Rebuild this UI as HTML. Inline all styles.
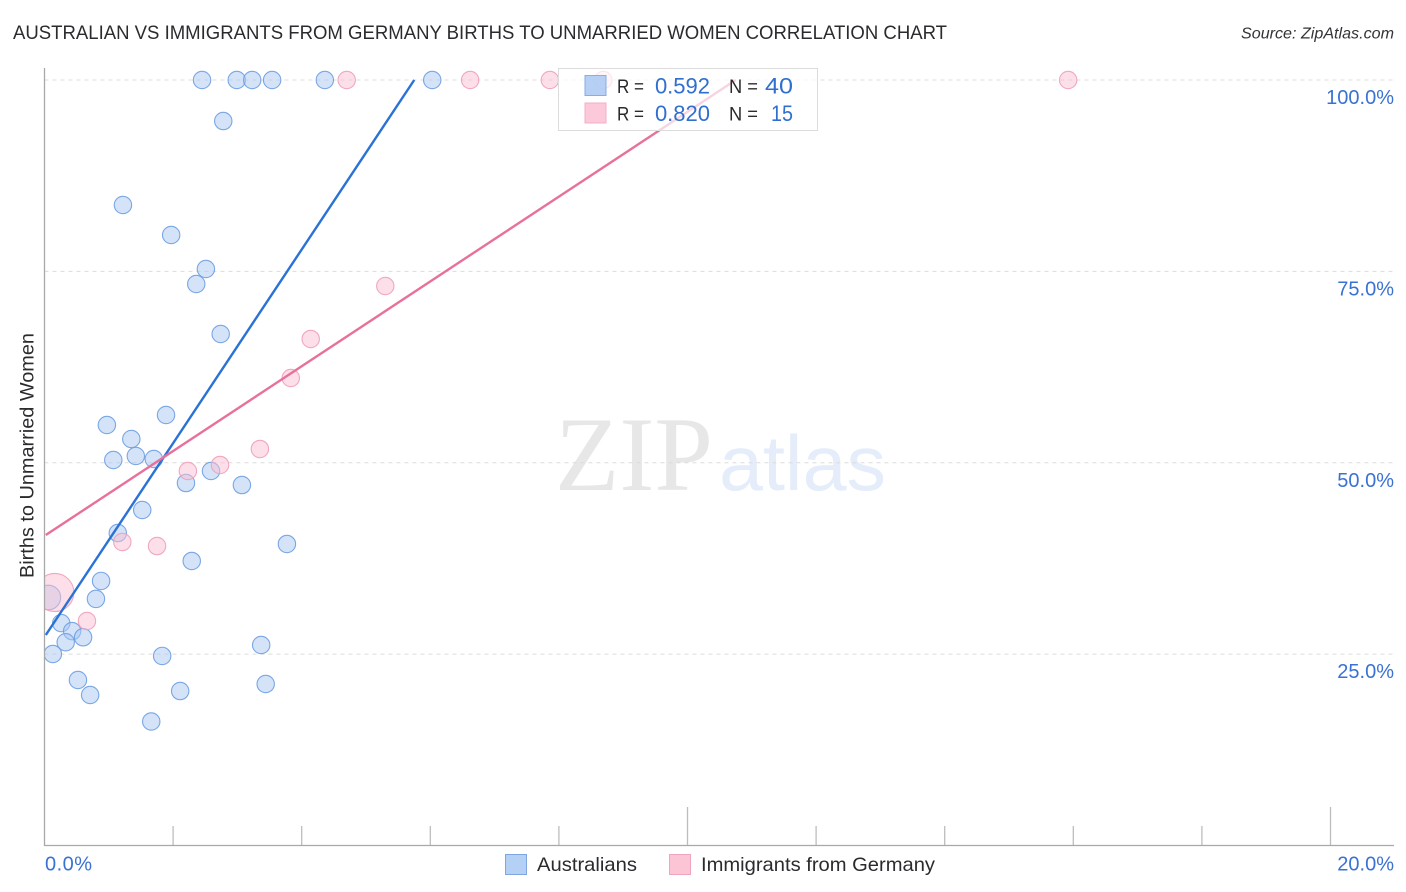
<!DOCTYPE html>
<html lang="en">
<head>
<meta charset="utf-8">
<title>Australian vs Immigrants from Germany Births to Unmarried Women Correlation Chart</title>
<style>
html,body{margin:0;padding:0;background:#fff;width:1406px;height:892px;overflow:hidden}
svg{display:block;font-family:"Liberation Sans",sans-serif}
</style>
</head>
<body>
<svg id="chart" width="1406" height="892" viewBox="0 0 1406 892" xmlns="http://www.w3.org/2000/svg">
  <rect x="0" y="0" width="1406" height="892" fill="#ffffff"/>
  <text x="13" y="39" font-size="19" fill="#2b2b2f" textLength="934" lengthAdjust="spacingAndGlyphs">AUSTRALIAN VS IMMIGRANTS FROM GERMANY BIRTHS TO UNMARRIED WOMEN CORRELATION CHART</text>
  <text x="1241" y="38.5" font-size="16" font-style="italic" fill="#333338" textLength="153" lengthAdjust="spacingAndGlyphs">Source: ZipAtlas.com</text>

  <g>
    <text x="555" y="490" font-family="'Liberation Serif',serif" font-size="106" fill="#e7e7e7" textLength="158" lengthAdjust="spacingAndGlyphs">ZIP</text>
    <text x="719" y="490" font-size="78" fill="#e4edf9" textLength="167" lengthAdjust="spacingAndGlyphs">atlas</text>
  </g>

  <g id="grid"></g>
  <g id="yLabels"></g>
  <g id="xTicks"></g>
  <g id="xLabels"></g>

  <svg x="44.5" y="60" width="1350" height="786" viewBox="44.5 60 1350 786" overflow="hidden">
    <g id="bluePoints"></g>
    <g id="pinkPoints"></g>
  </svg>
  <g id="trends"></g>

  <line x1="44.5" y1="68" x2="44.5" y2="846" stroke="#a8a8a8" stroke-width="1.3"/>
  <line x1="44" y1="845.5" x2="1394" y2="845.5" stroke="#a8a8a8" stroke-width="1.3"/>

  <text transform="translate(33.5,578) rotate(-90)" font-size="19" fill="#2b2b2f" textLength="245" lengthAdjust="spacingAndGlyphs">Births to Unmarried Women</text>

  <g>
    <rect x="558.5" y="68.5" width="259" height="62" fill="#ffffff" fill-opacity="0.7" stroke="#dcdcdc" stroke-width="1"/>
    <rect x="585" y="75.5" width="21" height="20" fill="#a9c8f3" fill-opacity="0.85" stroke="#86aee6" stroke-width="1"/>
    <rect x="585" y="103" width="21" height="20" fill="#fbc0d3" fill-opacity="0.85" stroke="#f3aec4" stroke-width="1"/>
    <text x="617" y="93" font-size="19.5" fill="#2b2b2f" textLength="27" lengthAdjust="spacingAndGlyphs">R =</text>
    <text x="710" y="93.5" font-size="22" fill="#2f6fd0" text-anchor="end">0.592</text>
    <text x="729" y="93" font-size="19.5" fill="#2b2b2f" textLength="29" lengthAdjust="spacingAndGlyphs">N =</text>
    <text x="765" y="93.5" font-size="22" fill="#2f6fd0" textLength="28" lengthAdjust="spacingAndGlyphs">40</text>
    <text x="617" y="120.5" font-size="19.5" fill="#2b2b2f" textLength="27" lengthAdjust="spacingAndGlyphs">R =</text>
    <text x="710" y="121" font-size="22" fill="#2f6fd0" text-anchor="end">0.820</text>
    <text x="729" y="120.5" font-size="19.5" fill="#2b2b2f" textLength="29" lengthAdjust="spacingAndGlyphs">N =</text>
    <text x="771" y="121" font-size="22" fill="#2f6fd0" textLength="22" lengthAdjust="spacingAndGlyphs">15</text>
  </g>

  <g>
    <rect x="505.5" y="854.5" width="21" height="20" fill="#b5d0f5" stroke="#7fa6de" stroke-width="1"/>
    <text x="537" y="871" font-size="19.5" fill="#2b2b2f" textLength="100" lengthAdjust="spacingAndGlyphs">Australians</text>
    <rect x="669.5" y="854.5" width="21" height="20" fill="#fcc5d6" stroke="#eda6bd" stroke-width="1"/>
    <text x="701" y="871" font-size="19.5" fill="#2b2b2f" textLength="234" lengthAdjust="spacingAndGlyphs">Immigrants from Germany</text>
  </g>
</svg>
<script>
const blueX = [2.45,2.99,3.23,3.54,4.36,6.03,2.78,1.22,1.97,2.51,2.36,2.74,1.89,0.97,1.35,1.42,1.70,1.07,2.59,2.20,3.07,1.52,1.14,3.77,2.29,0.88,0.80,0.06,0.26,0.43,0.60,0.33,0.13,1.83,3.37,0.52,3.44,0.71,2.11,1.66];
const blueY = [100,100,100,100,100,100,94.64,83.67,79.75,75.31,73.35,66.82,56.24,54.93,53.10,50.88,50.49,50.36,48.92,47.35,47.09,43.83,40.82,39.39,37.17,34.56,32.21,32.4,29.05,28.0,27.2,26.55,25.02,24.76,26.19,21.62,21.1,19.66,20.18,16.2];
const blueWeight = [1,1,1,1,1,1,1,1,1,1,1,1,1,1,1,1,1,1,1,1,1,1,1,1,1,1,1,2,1,1,1,1,1,1,1,1,1,1,1,1];

const pinkX = [4.70,6.62,7.86,8.69,15.92,5.30,4.14,3.83,3.35,2.73,2.23,1.21,1.75,0.66,0.16];
const pinkY = [100,100,100,100,100,73.09,66.17,61.07,51.8,49.71,48.92,39.65,39.12,29.33,33.05];
const pinkWeight = [1,1,1,1,1,1,1,1,1,1,1,1,1,1,4.8];

const blueTrendX = [0.02,5.75];
const blueTrendY = [27.5,100];
const pinkTrendX = [0.02,10.75];
const pinkTrendY = [40.56,100];

const yTicks = [100,75,50,25];
const yTickLabels = ["100.0%","75.0%","50.0%","25.0%"];
const xTicks = [0,2,4,6,8,10,12,14,16,18,20];
const xMajorTicks = [10,20];
const xEdgeValues = [0,20];
const xEdgeLabels = ["0.0%","20.0%"];

const NS = "http://www.w3.org/2000/svg";
function sx(v){ return 44.5 + v * 64.3; }
function sy(v){ return 80 + (100 - v) * 7.655; }
function sr(w){ return 8.7 * Math.sqrt(w); }
function mk(tag, attrs, parent){
  const el = document.createElementNS(NS, tag);
  for (const k in attrs) el.setAttribute(k, attrs[k]);
  parent.appendChild(el);
  return el;
}

const gridG = document.getElementById("grid");
const yLabelG = document.getElementById("yLabels");
yTicks.forEach(function(t, i){
  const line = mk("line", {x1:44.5, x2:1394, y1:sy(t), y2:sy(t), stroke:"#dcdcdc", "stroke-width":1, "stroke-dasharray":"4 4"}, gridG);
  
  
  const label = mk("text", {x:1394, y:sy(t) + 24, "font-size":20, fill:"#3a72d3", "text-anchor":"end"}, yLabelG);
  label.textContent = yTickLabels[i];
  
  
});

const tickG = document.getElementById("xTicks");
xTicks.forEach(function(t){
  if (t === 0) return;
  const major = xMajorTicks.indexOf(t) >= 0;
  const tick = mk("line", {x1:sx(t), x2:sx(t), y1:major ? 807 : 826, y2:845.5, stroke:"#bdbdbd", "stroke-width":1.3}, tickG);
  
  
});

const xLabelG = document.getElementById("xLabels");
xEdgeValues.forEach(function(v, i){
  const last = i === xEdgeValues.length - 1;
  const label = mk("text", {x:last ? 1394 : sx(v) + 0.5, y:870.5, "font-size":20, fill:"#3a72d3", "text-anchor":last ? "end" : "start"}, xLabelG);
  label.textContent = xEdgeLabels[i];
  if (!last) label.setAttribute('textLength', '47');
  
  
});

const blueG = document.getElementById("bluePoints");
blueX.forEach(function(x, i){
  const c = mk("circle", {cx:sx(x), cy:sy(blueY[i]), r:sr(blueWeight[i]), fill:"#a9c8f1", "fill-opacity":0.5, stroke:"#6d9fe2", "stroke-opacity":0.9, "stroke-width":1.1}, blueG);
  
  
});

const pinkG = document.getElementById("pinkPoints");
pinkX.forEach(function(x, i){
  const c = mk("circle", {cx:sx(x), cy:sy(pinkY[i]), r:sr(pinkWeight[i]), fill:"#f9c0d2", "fill-opacity":0.5, stroke:"#f0a0b8", "stroke-opacity":0.9, "stroke-width":1.1}, pinkG);
  
  
});

const trendG = document.getElementById("trends");
const blueLine = mk("line", {x1:sx(blueTrendX[0]), y1:sy(blueTrendY[0]), x2:sx(blueTrendX[1]), y2:sy(blueTrendY[1]), stroke:"#2a72d5", "stroke-width":2.4}, trendG);


const pinkLine = mk("line", {x1:sx(pinkTrendX[0]), y1:sy(pinkTrendY[0]), x2:sx(pinkTrendX[1]), y2:sy(pinkTrendY[1]), stroke:"#e8709c", "stroke-width":2.4}, trendG);


</script>
</body>
</html>
